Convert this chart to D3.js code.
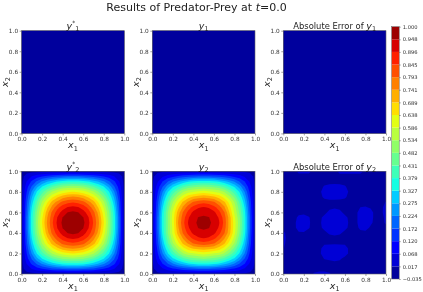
<!DOCTYPE html>
<html>
<head>
<meta charset="utf-8">
<title>Results of Predator-Prey</title>
<script src="https://cdnjs.cloudflare.com/ajax/libs/d3/7.8.5/d3.min.js"></script>
<style>
html, body { margin: 0; padding: 0; background: #fff; }
svg { display: block; filter: blur(0.3px); font-family: "DejaVu Sans", sans-serif; }
.tick text { fill: #333; font-size: 5.8px; font-family: "DejaVu Sans", sans-serif; }
.tick line { stroke: #444; stroke-width: 0.5; }
.domain { display: none; }
</style>
</head>
<body>
<div id="chart"></div>
<script>
var levels = [-0.035, 0.017, 0.068, 0.120, 0.172, 0.224, 0.275, 0.327, 0.379, 0.431, 0.482,
  0.534, 0.586, 0.638, 0.689, 0.741, 0.793, 0.845, 0.896, 0.948, 1.000];
var axisTicks = [0, 0.2, 0.4, 0.6, 0.8, 1];

// y1 is flat zero at t=0
var y1True = [[0, 0], [0, 0]];
var y1Pred = [[0, 0], [0, 0]];
var y1Err = [[0, 0], [0, 0]];

// rows go from x2=0 up to x2=1, columns from x1=0 to x1=1, step 0.05
var y2True = [
  [0,0,0,0,0,0,0,0,0,0,0,0,0,0,0,0,0,0,0,0,0],
  [0,.04,.07,.10,.12,.14,.16,.17,.18,.19,.19,.19,.18,.17,.16,.14,.12,.10,.07,.04,0],
  [0,.07,.13,.18,.23,.27,.30,.33,.35,.36,.36,.36,.35,.33,.30,.27,.23,.18,.13,.07,0],
  [0,.10,.18,.26,.33,.38,.43,.46,.49,.50,.51,.50,.49,.46,.43,.38,.33,.26,.18,.10,0],
  [0,.12,.23,.33,.41,.48,.54,.58,.61,.63,.64,.63,.61,.58,.54,.48,.41,.33,.23,.12,0],
  [0,.14,.27,.38,.48,.56,.63,.68,.72,.74,.75,.74,.72,.68,.63,.56,.48,.38,.27,.14,0],
  [0,.16,.30,.43,.54,.63,.71,.76,.81,.83,.84,.83,.81,.76,.71,.63,.54,.43,.30,.16,0],
  [0,.17,.33,.46,.58,.68,.76,.83,.87,.90,.91,.90,.87,.83,.76,.68,.58,.46,.33,.17,0],
  [0,.18,.35,.49,.61,.72,.81,.87,.92,.95,.96,.95,.92,.87,.81,.72,.61,.49,.35,.18,0],
  [0,.19,.36,.50,.63,.74,.83,.90,.95,.98,.99,.98,.95,.90,.83,.74,.63,.50,.36,.19,0],
  [0,.19,.36,.51,.64,.75,.84,.91,.96,.99,1,.99,.96,.91,.84,.75,.64,.51,.36,.19,0],
  [0,.19,.36,.50,.63,.74,.83,.90,.95,.98,.99,.98,.95,.90,.83,.74,.63,.50,.36,.19,0],
  [0,.18,.35,.49,.61,.72,.81,.87,.92,.95,.96,.95,.92,.87,.81,.72,.61,.49,.35,.18,0],
  [0,.17,.33,.46,.58,.68,.76,.83,.87,.90,.91,.90,.87,.83,.76,.68,.58,.46,.33,.17,0],
  [0,.16,.30,.43,.54,.63,.71,.76,.81,.83,.84,.83,.81,.76,.71,.63,.54,.43,.30,.16,0],
  [0,.14,.27,.38,.48,.56,.63,.68,.72,.74,.75,.74,.72,.68,.63,.56,.48,.38,.27,.14,0],
  [0,.12,.23,.33,.41,.48,.54,.58,.61,.63,.64,.63,.61,.58,.54,.48,.41,.33,.23,.12,0],
  [0,.10,.18,.26,.33,.38,.43,.46,.49,.50,.51,.50,.49,.46,.43,.38,.33,.26,.18,.10,0],
  [0,.07,.13,.18,.23,.27,.30,.33,.35,.36,.36,.36,.35,.33,.30,.27,.23,.18,.13,.07,0],
  [0,.04,.07,.10,.12,.14,.16,.17,.18,.19,.19,.19,.18,.17,.16,.14,.12,.10,.07,.04,0],
  [0,0,0,0,0,0,0,0,0,0,0,0,0,0,0,0,0,0,0,0,0]
];

var y2Pred = [
  [.01,.01,.01,.01,.01,.01,.01,.01,.01,.01,.01,.01,.01,.01,.01,.01,.01,.01,.01,.01,.01],
  [.01,.03,.06,.09,.11,.13,.15,.16,.17,.18,.18,.18,.17,.16,.15,.13,.11,.09,.06,.03,.01],
  [.01,.06,.12,.17,.22,.26,.29,.32,.34,.35,.35,.35,.34,.32,.29,.26,.22,.17,.12,.06,.01],
  [.01,.09,.17,.25,.32,.37,.42,.45,.47,.48,.49,.48,.47,.45,.42,.37,.32,.25,.17,.09,.01],
  [.01,.11,.22,.32,.40,.47,.53,.57,.58,.60,.61,.60,.58,.57,.53,.47,.40,.32,.22,.11,.01],
  [.01,.13,.26,.37,.47,.55,.62,.67,.70,.71,.72,.71,.70,.67,.62,.55,.47,.37,.26,.13,.01],
  [.01,.15,.29,.42,.53,.62,.70,.75,.80,.82,.83,.82,.80,.75,.70,.62,.53,.42,.29,.15,.01],
  [.01,.16,.32,.45,.57,.67,.75,.82,.86,.89,.90,.89,.86,.82,.75,.67,.57,.45,.32,.16,.01],
  [.01,.17,.34,.48,.60,.71,.80,.86,.91,.93,.936,.93,.91,.86,.80,.71,.60,.48,.34,.17,.01],
  [.01,.18,.35,.48,.60,.73,.82,.89,.93,.95,.956,.95,.93,.89,.82,.72,.61,.49,.35,.18,.01],
  [.01,.18,.35,.48,.61,.74,.83,.90,.936,.957,.964,.957,.936,.90,.83,.72,.61,.50,.35,.18,.01],
  [.01,.18,.35,.48,.61,.73,.82,.89,.93,.95,.956,.95,.93,.89,.82,.72,.60,.49,.35,.18,.01],
  [.01,.17,.34,.48,.60,.71,.80,.86,.91,.93,.934,.93,.91,.86,.80,.69,.58,.47,.34,.17,.01],
  [.01,.16,.32,.45,.57,.67,.75,.82,.86,.89,.90,.89,.86,.82,.75,.66,.56,.45,.32,.16,.01],
  [.01,.15,.29,.42,.53,.62,.70,.75,.80,.82,.83,.82,.80,.75,.70,.62,.53,.42,.29,.15,.01],
  [.01,.13,.26,.37,.47,.55,.62,.67,.70,.715,.725,.715,.70,.67,.62,.55,.47,.37,.26,.13,.01],
  [.01,.11,.22,.32,.40,.47,.53,.57,.585,.60,.61,.60,.585,.57,.53,.47,.40,.32,.22,.11,.01],
  [.01,.09,.17,.25,.32,.37,.42,.45,.47,.48,.49,.48,.47,.45,.42,.37,.32,.25,.17,.09,.01],
  [.01,.06,.12,.17,.22,.26,.29,.32,.34,.35,.35,.35,.34,.32,.29,.26,.22,.17,.12,.06,.01],
  [.01,.03,.06,.09,.11,.13,.15,.16,.17,.18,.18,.18,.17,.16,.15,.13,.11,.09,.06,.03,.01],
  [.01,.01,.01,.01,.01,.01,.01,.01,.01,.01,.01,.01,.01,.01,.01,.01,.01,.01,.01,.01,.01]
];

var y2Err = [
  [.01,.01,.01,.01,.01,.01,.019,.024,.024,.019,.01,.01,.01,.01,.01,.01,.01,.01,.01,.01,.01],
  [.01,.01,.01,.01,.01,.01,.01,.01,.01,.01,.01,.01,.01,.01,.01,.01,.01,.01,.01,.01,.01],
  [.01,.01,.01,.01,.01,.01,.01,.01,.01,.01,.01,.01,.01,.01,.01,.01,.01,.01,.01,.01,.01],
  [.01,.01,.01,.01,.01,.01,.01,.01,.018,.02,.024,.02,.012,.01,.01,.01,.01,.01,.01,.01,.01],
  [.01,.01,.01,.01,.01,.01,.01,.013,.026,.03,.03,.03,.025,.012,.01,.01,.01,.01,.01,.01,.01],
  [.018,.01,.01,.01,.01,.01,.01,.012,.024,.027,.028,.027,.024,.012,.01,.01,.01,.01,.01,.01,.01],
  [.021,.01,.01,.01,.01,.01,.01,.01,.014,.014,.014,.014,.014,.01,.01,.01,.01,.01,.01,.01,.01],
  [.024,.01,.01,.01,.01,.01,.01,.01,.01,.01,.01,.01,.01,.01,.01,.01,.01,.01,.01,.01,.01],
  [.021,.01,.01,.015,.015,.01,.01,.01,.012,.02,.024,.02,.012,.01,.01,.012,.012,.01,.01,.01,.01],
  [.01,.01,.011,.024,.027,.018,.01,.012,.022,.032,.034,.032,.022,.012,.01,.021,.024,.014,.01,.01,.012],
  [.01,.01,.011,.025,.028,.019,.01,.013,.024,.033,.036,.033,.024,.013,.01,.026,.03,.021,.01,.01,.02],
  [.01,.01,.01,.021,.024,.018,.01,.012,.022,.032,.035,.032,.022,.012,.01,.026,.03,.024,.01,.01,.022],
  [.01,.01,.01,.012,.012,.01,.01,.01,.012,.022,.03,.022,.012,.01,.01,.026,.028,.024,.01,.012,.026],
  [.01,.01,.01,.01,.01,.01,.01,.01,.01,.012,.013,.012,.01,.01,.01,.017,.018,.015,.01,.012,.024],
  [.01,.01,.01,.01,.01,.01,.01,.01,.01,.01,.01,.01,.01,.01,.01,.01,.01,.01,.01,.01,.018],
  [.01,.01,.01,.01,.01,.01,.01,.01,.021,.025,.025,.024,.02,.01,.01,.01,.01,.01,.01,.01,.01],
  [.01,.01,.01,.01,.01,.01,.01,.012,.026,.03,.03,.03,.026,.012,.01,.01,.01,.01,.01,.01,.01],
  [.01,.01,.01,.01,.01,.01,.01,.01,.019,.024,.025,.024,.019,.01,.01,.01,.01,.01,.01,.01,.01],
  [.01,.01,.01,.01,.01,.01,.01,.01,.01,.01,.01,.01,.01,.01,.01,.01,.01,.01,.01,.01,.01],
  [.01,.01,.01,.01,.01,.01,.01,.01,.01,.01,.01,.01,.01,.01,.01,.01,.01,.01,.01,.01,.01],
  [.01,.01,.01,.022,.022,.022,.01,.01,.01,.01,.01,.024,.024,.024,.024,.024,.012,.01,.01,.01,.01]
];

var width = 423;
var height = 292;
var panelSize = 102.7;
var colX = [21.6, 152.3, 283.3];
var rowY = [30.7, 171.3];

var svg = d3.select("#chart").append("svg")
  .attr("width", width)
  .attr("height", height);

// jet colormap, same break points as matplotlib
var jetR = d3.scaleLinear().domain([0, 0.35, 0.66, 0.89, 1]).range([0, 0, 1, 1, 0.5]);
var jetG = d3.scaleLinear().domain([0, 0.125, 0.375, 0.64, 0.91, 1]).range([0, 0, 1, 1, 0, 0]);
var jetB = d3.scaleLinear().domain([0, 0.11, 0.34, 0.65, 1]).range([0.5, 1, 1, 0, 0]);
var norm = d3.scaleLinear().domain([levels[0], levels[levels.length - 1]]).range([0, 1]);
function bandColor(i) {
  var t = norm((levels[i] + levels[i + 1]) / 2);
  return d3.rgb(jetR(t) * 255, jetG(t) * 255, jetB(t) * 255).formatHex();
}

svg.append("text")
  .attr("x", 196.5)
  .attr("y", 11.2)
  .attr("text-anchor", "middle")
  .attr("font-size", 11)
  .attr("fill", "#222")
  .call(function (t) {
    t.append("tspan").text("Results of Predator-Prey at ");
    t.append("tspan").attr("font-style", "italic").text("t");
    t.append("tspan").text("=0.0");
  });

// writes a math label like y*_1, with a raised star and a lowered index
function mathLabel(sel, prefix, letter, star, index) {
  if (prefix) sel.append("tspan").attr("font-size", 8.4).text(prefix);
  sel.append("tspan").attr("font-style", "italic").text(letter);
  if (star) {
    sel.append("tspan").attr("font-size", 6).attr("dy", -3.5).text("*");
    sel.append("tspan").attr("font-size", 6.5).attr("dy", 5.8).text(index);
  } else {
    sel.append("tspan").attr("font-size", 6.5).attr("dy", 2.3).text(index);
  }
}

var panels = [
  { grid: y1True, col: 0, row: 0, letter: "y", star: true, index: "1", prefix: "" },
  { grid: y1Pred, col: 1, row: 0, letter: "y", star: false, index: "1", prefix: "" },
  { grid: y1Err, col: 2, row: 0, letter: "y", star: false, index: "1", prefix: "Absolute Error of " },
  { grid: y2True, col: 0, row: 1, letter: "y", star: true, index: "2", prefix: "" },
  { grid: y2Pred, col: 1, row: 1, letter: "y", star: false, index: "2", prefix: "" },
  { grid: y2Err, col: 2, row: 1, letter: "y", star: false, index: "2", prefix: "Absolute Error of " }
];

panels.forEach(function (p, k) {
  var left = colX[p.col];
  var top = rowY[p.row];
  var g = svg.append("g").attr("transform", "translate(" + left + "," + top + ")");

  var x = d3.scaleLinear().domain([0, 1]).range([0, panelSize]);
  var y = d3.scaleLinear().domain([0, 1]).range([panelSize, 0]);

  var ny = p.grid.length;
  var nx = p.grid[0].length;
  var values = d3.merge(p.grid);
  var contours = d3.contours().size([nx, ny]).thresholds(levels.slice(0, -1))(values);

  // grid index -> data coordinate, cell centres sit at i + 0.5
  var ix = d3.scaleLinear().domain([0.5, nx - 0.5]).range([0, 1]);
  var iy = d3.scaleLinear().domain([0.5, ny - 0.5]).range([0, 1]);
  var path = d3.geoPath(d3.geoTransform({
    point: function (a, b) { this.stream.point(x(ix(a)), y(iy(b))); }
  }));

  svg.append("clipPath").attr("id", "clip" + k).append("rect")
    .attr("width", panelSize).attr("height", panelSize);

  g.append("rect")
    .attr("width", panelSize).attr("height", panelSize)
    .attr("fill", bandColor(0));

  g.append("g").attr("clip-path", "url(#clip" + k + ")")
    .selectAll("path")
    .data(contours)
    .enter().append("path")
    .attr("d", path)
    .attr("fill", function (d, i) { return bandColor(i); });

  g.append("g").attr("transform", "translate(0," + panelSize + ")")
    .call(d3.axisBottom(x).tickValues(axisTicks).tickFormat(d3.format(".1f")).tickSize(2).tickPadding(1.5));
  g.append("g")
    .call(d3.axisLeft(y).tickValues(axisTicks).tickFormat(d3.format(".1f")).tickSize(2).tickPadding(1.5));

  g.append("rect")
    .attr("width", panelSize).attr("height", panelSize)
    .attr("fill", "none").attr("stroke", "#666").attr("stroke-width", 0.6);

  g.append("text")
    .attr("x", panelSize / 2).attr("y", -1.8)
    .attr("text-anchor", "middle").attr("font-size", 9.5).attr("fill", "#222")
    .call(mathLabel, p.prefix, p.letter, p.star, p.index);

  g.append("text")
    .attr("x", panelSize / 2).attr("y", panelSize + 15)
    .attr("text-anchor", "middle").attr("font-size", 9.5).attr("fill", "#222")
    .call(mathLabel, "", "x", false, "1");

  g.append("text")
    .attr("transform", "translate(-13.5," + (panelSize / 2) + ") rotate(-90)")
    .attr("text-anchor", "middle").attr("font-size", 9.5).attr("fill", "#222")
    .call(mathLabel, "", "x", false, "2");
});

// colorbar, evenly spaced bands
var barLeft = 391.7;
var barWidth = 7.5;
var barTop = 26.7;
var barBottom = 279;
var barScale = d3.scalePoint().domain(levels).range([barBottom, barTop]);
var bar = svg.append("g");
bar.selectAll("rect")
  .data(levels.slice(0, -1))
  .enter().append("rect")
  .attr("x", barLeft)
  .attr("y", function (d, i) { return barScale(levels[i + 1]); })
  .attr("width", barWidth)
  .attr("height", function (d, i) { return barScale(levels[i]) - barScale(levels[i + 1]); })
  .attr("fill", function (d, i) { return bandColor(i); });
bar.append("rect")
  .attr("x", barLeft).attr("y", barTop)
  .attr("width", barWidth).attr("height", barBottom - barTop)
  .attr("fill", "none").attr("stroke", "#666").attr("stroke-width", 0.5);
bar.append("g")
  .attr("transform", "translate(" + (barLeft + barWidth) + ",0)")
  .call(d3.axisRight(barScale).tickFormat(d3.format(".3f")).tickSize(1.5).tickPadding(2));
bar.selectAll(".tick text").style("font-size", "5.2px");
</script>
</body>
</html>
